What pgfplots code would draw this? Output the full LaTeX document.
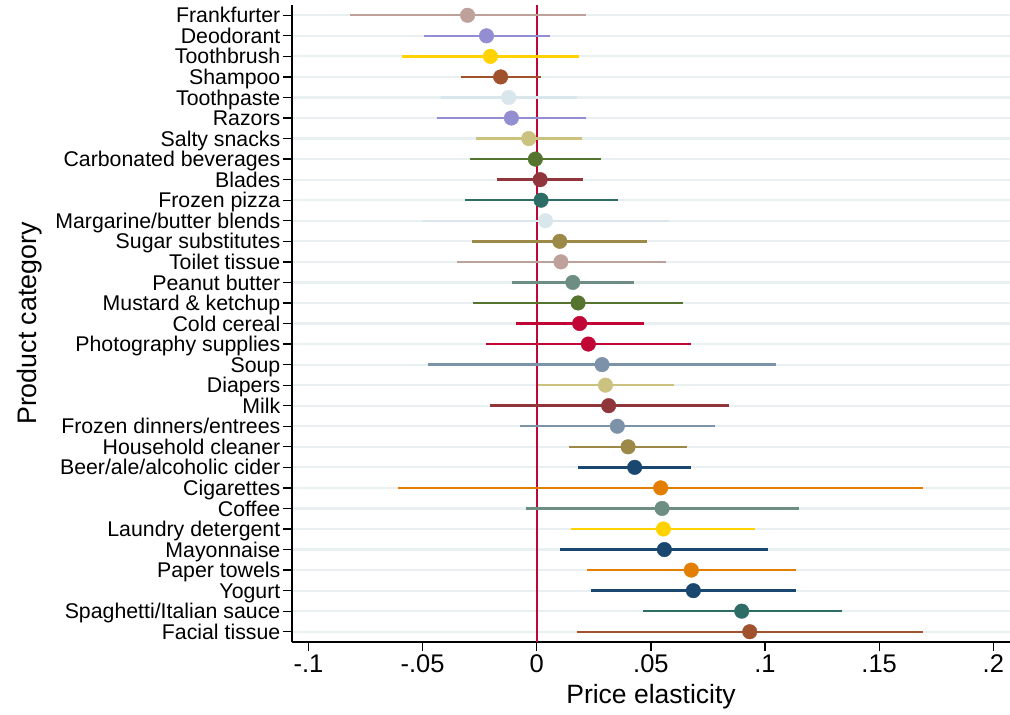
\documentclass[border=0pt]{standalone}
\usepackage{pgfplots}
\pgfplotsset{compat=1.18}
\usepackage{fontspec}
\setmainfont{Liberation Sans}
\definecolor{navy}{RGB}{26,71,111}
\definecolor{maroon}{RGB}{144,53,59}
\definecolor{forestgreen}{RGB}{85,117,47}
\definecolor{dkorange}{RGB}{227,126,0}
\definecolor{teal}{RGB}{110,142,132}
\definecolor{cranberry}{RGB}{193,5,52}
\definecolor{lavender}{RGB}{147,141,210}
\definecolor{khaki}{RGB}{202,194,126}
\definecolor{sienna}{RGB}{160,82,45}
\definecolor{emidblue}{RGB}{123,146,168}
\definecolor{emerald}{RGB}{45,109,102}
\definecolor{sbrown}{RGB}{156,136,71}
\definecolor{erose}{RGB}{191,161,156}
\definecolor{sgold}{RGB}{255,210,0}
\definecolor{bluishgray}{RGB}{217,230,235}
\definecolor{gridc}{RGB}{232,240,242}
\pgfplotsset{
  ci/.style={line width=2.4pt, forget plot},
  pt/.style={only marks, mark=*, mark size=7.3pt, forget plot},
}
\begin{document}
\begin{tikzpicture}
\useasboundingbox (0,0) rectangle (1010pt,715pt);
\begin{axis}[
  at={(292pt,73pt)}, anchor=south west,
  scale only axis, width=718pt, height=637pt,
  xmin=-0.1072, xmax=0.2073,
  ymin=0.5, ymax=31.5, y dir=reverse,
  axis x line*=bottom, axis y line*=left,
  axis line style={line width=1.3pt, black},
  tick align=outside, major tick length=9pt,
  every tick/.style={black, line width=1.3pt},
  xtick={-0.1,-0.05,0,0.05,0.1,0.15,0.2},
  xticklabels={-.1,-.05,0,.05,.1,.15,.2},
  ytick={1,...,31},
  yticklabels={Frankfurter,Deodorant,Toothbrush,Shampoo,Toothpaste,Razors,Salty snacks,Carbonated beverages,Blades,Frozen pizza,Margarine/butter blends,Sugar substitutes,Toilet tissue,Peanut butter,Mustard \& ketchup,Cold cereal,Photography supplies,Soup,Diapers,Milk,Frozen dinners/entrees,Household cleaner,Beer/ale/alcoholic cider,Cigarettes,Coffee,Laundry detergent,Mayonnaise,Paper towels,Yogurt,Spaghetti/Italian sauce,Facial tissue},
  yticklabel style={font=\fontsize{21.3}{22}\selectfont, inner xsep=2.5pt, inner ysep=0pt, text height=17.4pt, text depth=2.2pt},
  xticklabel style={font=\fontsize{25.5}{28}\selectfont},
  ymajorgrids, major grid style={draw=gridc, line width=2.2pt},
  xlabel={Price elasticity}, ylabel={Product category},
  every axis x label/.style={at={(axis description cs:0.5,-0.0863)}, anchor=center, font=\fontsize{26.5}{29}\selectfont},
  every axis y label/.style={at={(axis description cs:-0.3649,0.5)}, rotate=90, anchor=center, font=\fontsize{26.8}{29}\selectfont},
]
\addplot[cranberry, line width=2.2pt, forget plot] coordinates {(0,0.5) (0,31.5)};
\addplot[erose, ci] coordinates {(-0.0818,1) (0.0214,1)};
\addplot[erose, pt] coordinates {(-0.0303,1)};
\addplot[lavender, ci] coordinates {(-0.0496,2) (0.0057,2)};
\addplot[lavender, pt] coordinates {(-0.0220,2)};
\addplot[sgold, ci] coordinates {(-0.0589,3) (0.0185,3)};
\addplot[sgold, pt] coordinates {(-0.0203,3)};
\addplot[sienna, ci] coordinates {(-0.0333,4) (0.0019,4)};
\addplot[sienna, pt] coordinates {(-0.0158,4)};
\addplot[bluishgray, ci] coordinates {(-0.0420,5) (0.0178,5)};
\addplot[bluishgray, pt] coordinates {(-0.0123,5)};
\addplot[lavender, ci] coordinates {(-0.0439,6) (0.0217,6)};
\addplot[lavender, pt] coordinates {(-0.0111,6)};
\addplot[khaki, ci] coordinates {(-0.0267,7) (0.0200,7)};
\addplot[khaki, pt] coordinates {(-0.0035,7)};
\addplot[forestgreen, ci] coordinates {(-0.0292,8) (0.0283,8)};
\addplot[forestgreen, pt] coordinates {(-0.0006,8)};
\addplot[maroon, ci] coordinates {(-0.0174,9) (0.0203,9)};
\addplot[maroon, pt] coordinates {(0.0015,9)};
\addplot[emerald, ci] coordinates {(-0.0315,10) (0.0356,10)};
\addplot[emerald, pt] coordinates {(0.0019,10)};
\addplot[bluishgray, ci] coordinates {(-0.0502,11) (0.0578,11)};
\addplot[bluishgray, pt] coordinates {(0.0038,11)};
\addplot[sbrown, ci] coordinates {(-0.0283,12) (0.0483,12)};
\addplot[sbrown, pt] coordinates {(0.0101,12)};
\addplot[erose, ci] coordinates {(-0.0350,13) (0.0565,13)};
\addplot[erose, pt] coordinates {(0.0106,13)};
\addplot[teal, ci] coordinates {(-0.0109,14) (0.0424,14)};
\addplot[teal, pt] coordinates {(0.0158,14)};
\addplot[forestgreen, ci] coordinates {(-0.0281,15) (0.0639,15)};
\addplot[forestgreen, pt] coordinates {(0.0181,15)};
\addplot[cranberry, ci] coordinates {(-0.0092,16) (0.0470,16)};
\addplot[cranberry, pt] coordinates {(0.0188,16)};
\addplot[cranberry, ci] coordinates {(-0.0222,17) (0.0674,17)};
\addplot[cranberry, pt] coordinates {(0.0226,17)};
\addplot[emidblue, ci] coordinates {(-0.0478,18) (0.1050,18)};
\addplot[emidblue, pt] coordinates {(0.0286,18)};
\addplot[khaki, ci] coordinates {(0.0007,19) (0.0600,19)};
\addplot[khaki, pt] coordinates {(0.0301,19)};
\addplot[maroon, ci] coordinates {(-0.0203,20) (0.0840,20)};
\addplot[maroon, pt] coordinates {(0.0315,20)};
\addplot[emidblue, ci] coordinates {(-0.0073,21) (0.0779,21)};
\addplot[emidblue, pt] coordinates {(0.0353,21)};
\addplot[sbrown, ci] coordinates {(0.0143,22) (0.0656,22)};
\addplot[sbrown, pt] coordinates {(0.0400,22)};
\addplot[navy, ci] coordinates {(0.0182,23) (0.0674,23)};
\addplot[navy, pt] coordinates {(0.0429,23)};
\addplot[dkorange, ci] coordinates {(-0.0607,24) (0.1694,24)};
\addplot[dkorange, pt] coordinates {(0.0543,24)};
\addplot[teal, ci] coordinates {(-0.0047,25) (0.1148,25)};
\addplot[teal, pt] coordinates {(0.0549,25)};
\addplot[sgold, ci] coordinates {(0.0152,26) (0.0957,26)};
\addplot[sgold, pt] coordinates {(0.0555,26)};
\addplot[navy, ci] coordinates {(0.0103,27) (0.1013,27)};
\addplot[navy, pt] coordinates {(0.0559,27)};
\addplot[dkorange, ci] coordinates {(0.0220,28) (0.1137,28)};
\addplot[dkorange, pt] coordinates {(0.0677,28)};
\addplot[navy, ci] coordinates {(0.0236,29) (0.1137,29)};
\addplot[navy, pt] coordinates {(0.0686,29)};
\addplot[emerald, ci] coordinates {(0.0465,30) (0.1336,30)};
\addplot[emerald, pt] coordinates {(0.0898,30)};
\addplot[sienna, ci] coordinates {(0.0176,31) (0.1691,31)};
\addplot[sienna, pt] coordinates {(0.0933,31)};
\end{axis}
\end{tikzpicture}
\end{document}
